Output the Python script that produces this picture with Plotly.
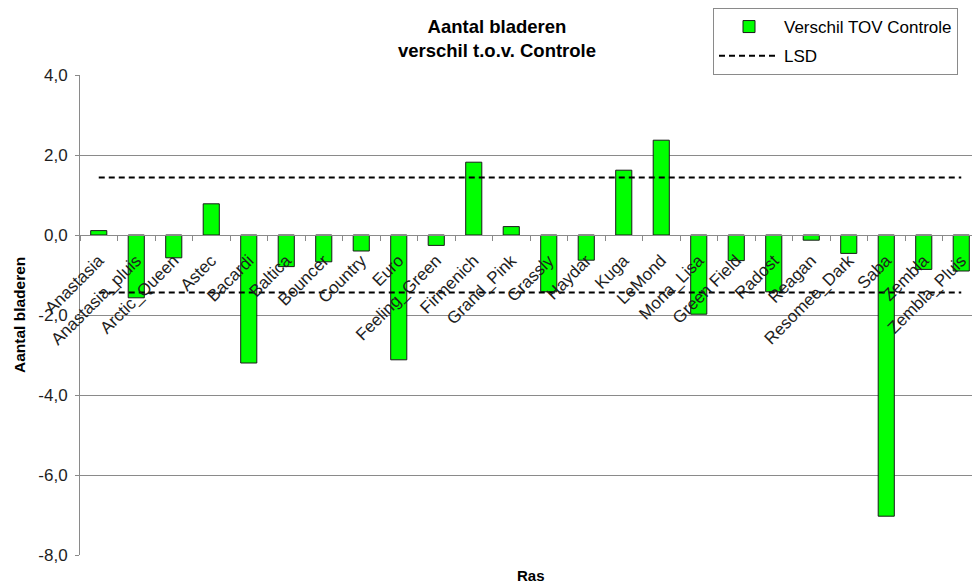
import plotly.graph_objects as go

categories = ["Anastasia", "Anastasia_pluis", "Arctic_Queen", "Astec", "Bacardi", "Baltica",
              "Bouncer", "Country", "Euro", "Feeling_Green", "Firmenich", "Grand_Pink",
              "Grassly", "Haydar", "Kuga", "LeMond", "Mona_Lisa", "Green Field", "Radost",
              "Reagan", "Resomee_Dark", "Saba", "Zembla", "Zembla_Pluis"]
verschil = [0.11, -1.57, -0.57, 0.78, -3.20, -0.79, -0.67, -0.40, -3.12, -0.26, 1.82, 0.21,
            -1.42, -0.63, 1.62, 2.37, -1.98, -0.64, -1.42, -0.13, -0.46, -7.03, -0.86, -0.90]
lsd = 1.44
y_ticks = [-8, -6, -4, -2, 0, 2, 4]
y_labels = ["-8,0", "-6,0", "-4,0", "-2,0", "0,0", "2,0", "4,0"]

FONT = "Liberation Sans, Arial, sans-serif"
GRID = "#8a8a8a"
TXT = "#1e1e1e"

W, H = 972, 584
ML, MR, MT, MB = 80, 0, 75, 29
plot_w = W - ML - MR
plot_h = H - MT - MB

fig = go.Figure()
fig.add_trace(go.Bar(
    x=categories, y=verschil, name="Verschil TOV Controle",
    marker=dict(color="#00FF00", line=dict(color="#1a1a1a", width=1)),
    width=0.43, legendgroup="a",
))
fig.add_trace(go.Scatter(
    x=categories, y=[lsd] * len(categories), mode="lines", name="LSD",
    line=dict(color="black", width=2, dash="6px,4px"), legendgroup="b",
))
fig.add_trace(go.Scatter(
    x=categories, y=[-lsd] * len(categories), mode="lines", name="LSD",
    line=dict(color="black", width=2, dash="6px,4px"), legendgroup="b", showlegend=False,
))

zero_frac = (0 - y_ticks[0]) / (y_ticks[-1] - y_ticks[0])
cat_px = 37.5
x_max = -0.5 + plot_w / cat_px

fig.update_layout(
    width=W, height=H,
    margin=dict(l=ML, r=MR, t=MT, b=MB, autoexpand=False),
    paper_bgcolor="white", plot_bgcolor="white",
    separators=",.",
    font=dict(family=FONT, color=TXT),
    title=dict(
        text="<b>Aantal bladeren<br>verschil t.o.v. Controle</b>",
        x=497 / W, xanchor="center", xref="container",
        y=1 - 33 / H, yanchor="top", yref="container",
        font=dict(size=18.5, family=FONT, color="black"),
    ),
    xaxis=dict(
        type="category", range=[-0.5, x_max],
        anchor="free", position=zero_frac,
        showline=True, linecolor=GRID, linewidth=1,
        ticks="outside", tickson="boundaries", ticklen=5, tickcolor=GRID,
        tickangle=-45, tickfont=dict(size=17, family=FONT, color=TXT),
        ticklabelstandoff=8,
        showgrid=False, zeroline=False,
    ),
    yaxis=dict(
        range=[y_ticks[0], y_ticks[-1]], tickvals=y_ticks, ticktext=y_labels,
        showgrid=True, gridcolor=GRID, gridwidth=1,
        showline=True, linecolor=GRID, linewidth=1,
        ticks="outside", ticklen=4, tickcolor=GRID, ticklabelstandoff=4,
        zeroline=False, tickfont=dict(size=17, family=FONT, color=TXT),
    ),
    legend=dict(
        x=(713 - ML) / plot_w, y=(H - MB - 8) / plot_h, xanchor="left", yanchor="top",
        bordercolor="#8a8a8a", borderwidth=1, bgcolor="white",
        font=dict(size=17, family=FONT, color="black"),
        traceorder="grouped", tracegroupgap=4, itemwidth=60,
    ),
    annotations=[
        dict(text="<b>Aantal bladeren</b>", textangle=-90, xref="paper", yref="paper",
             x=(19 - ML) / plot_w, y=0.5, xanchor="center", yanchor="middle",
             showarrow=False, font=dict(size=15.5, family=FONT, color="black")),
        dict(text="<b>Ras</b>", xref="paper", yref="paper",
             x=(531 - ML) / plot_w, y=-(575 - (H - MB)) / plot_h,
             xanchor="center", yanchor="middle",
             showarrow=False, font=dict(size=15, family=FONT, color="black")),
    ],
)

fig.write_html("out.html", config={"displayModeBar": False},
               post_script="document.body.style.margin='0';")
